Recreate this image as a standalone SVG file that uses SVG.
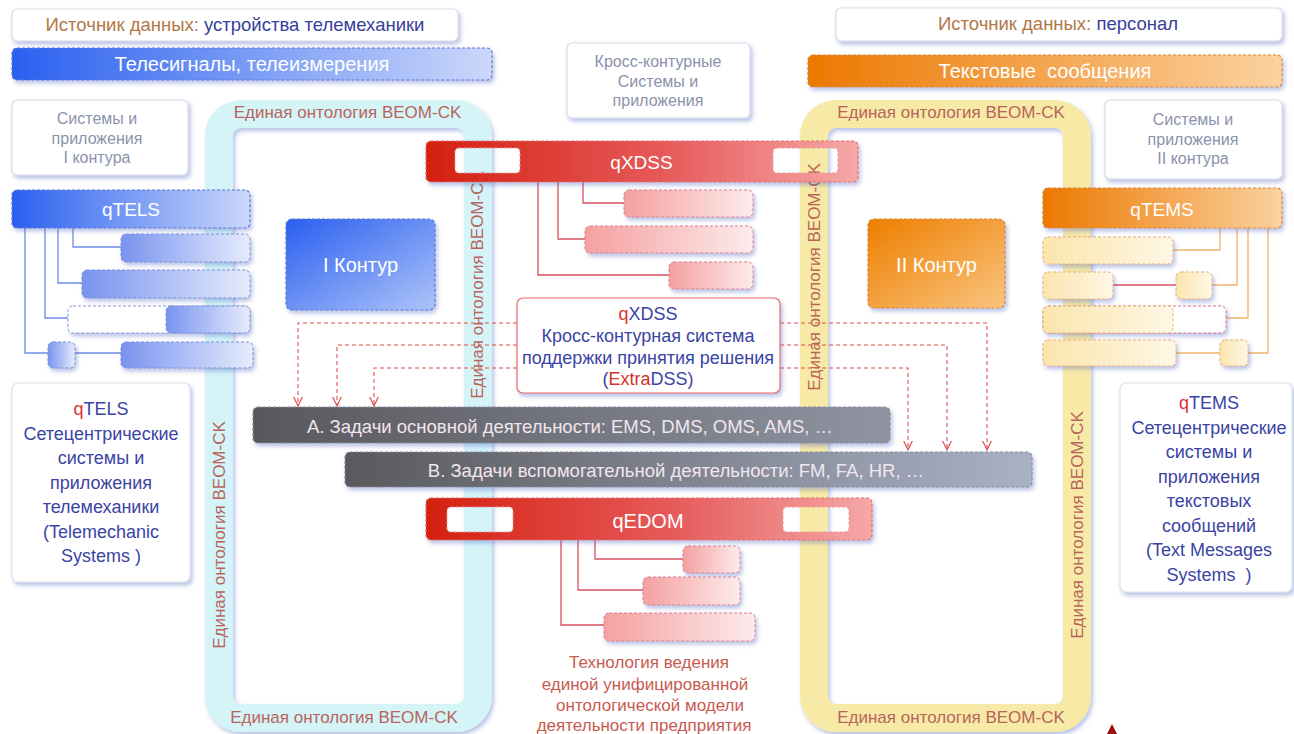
<svg xmlns="http://www.w3.org/2000/svg" width="1294" height="734" viewBox="0 0 1294 734">
<defs>
<style>
text{font-family:"Liberation Sans",Arial,Helvetica,sans-serif;}
.src{fill:#fff;stroke:#d8dcea;stroke-width:1.2}
.gray{fill:#8a92ac;font-size:16px;text-anchor:middle}
.wt{fill:#fff;text-anchor:middle}
.rl{fill:#b8645c;font-size:17px;text-anchor:middle}
.desc{fill:#3a44a4;font-size:18px;text-anchor:middle}
.q{fill:#d83030}
.tb{fill:none;stroke:#6f8ae6;stroke-width:1.3}
.tr{fill:none;stroke:#d8505e;stroke-width:1.3}
.to{fill:none;stroke:#f0b468;stroke-width:1.3}
.arr{fill:none;stroke:#e0504f;stroke-width:1.1;stroke-dasharray:4 3;marker-end:url(#ah)}
.hole{fill:none;stroke:#e89a9a;stroke-width:1;stroke-dasharray:3 2}
.sbB{fill:url(#gLB);stroke:#7a90dc;stroke-width:1;stroke-dasharray:3 2}
.sbP{fill:url(#gP);stroke:#d88090;stroke-width:1;stroke-dasharray:3 2}
.sbY{fill:url(#gY);stroke:#e8b070;stroke-width:1;stroke-dasharray:3 2}
.bdB{stroke:#5a78d8;stroke-width:1.2;stroke-dasharray:3 2}
.bdO{stroke:#d88a30;stroke-width:1.2;stroke-dasharray:3 2}
.bdR{stroke:#e07070;stroke-width:1.2;stroke-dasharray:3 2}
.bdG{stroke:#8a8fa0;stroke-width:1.2;stroke-dasharray:3 2}
.task{fill:#f2e6ee;font-size:18.5px;text-anchor:middle}
</style>
<filter id="sh" x="-10%" y="-20%" width="130%" height="160%">
<feDropShadow dx="2" dy="3" stdDeviation="2" flood-color="#5068c0" flood-opacity="0.4"/>
</filter>
<linearGradient id="gB" x1="0" y1="0" x2="1" y2="0"><stop offset="0" stop-color="#2a60f0"/><stop offset="1" stop-color="#cbd8fa"/></linearGradient>
<linearGradient id="gBd" x1="0" y1="0" x2="1" y2="1"><stop offset="0" stop-color="#2a5ff0"/><stop offset="1" stop-color="#adc3f9"/></linearGradient>
<linearGradient id="gO" x1="0" y1="0" x2="1" y2="0"><stop offset="0" stop-color="#ec7800"/><stop offset="1" stop-color="#fbd2a0"/></linearGradient>
<linearGradient id="gOd" x1="0" y1="0" x2="1" y2="1"><stop offset="0" stop-color="#ee7e00"/><stop offset="1" stop-color="#f9c47e"/></linearGradient>
<linearGradient id="gR" x1="0" y1="0" x2="1" y2="0"><stop offset="0" stop-color="#d4200f"/><stop offset="0.55" stop-color="#e65a5a"/><stop offset="1" stop-color="#f6a8a8"/></linearGradient>
<linearGradient id="gA" x1="0" y1="0" x2="1" y2="0"><stop offset="0" stop-color="#58585c"/><stop offset="1" stop-color="#8f94a2"/></linearGradient>
<linearGradient id="gBb" x1="0" y1="0" x2="1" y2="0"><stop offset="0" stop-color="#59595d"/><stop offset="1" stop-color="#a9b1c5"/></linearGradient>
<linearGradient id="gP" x1="0" y1="0" x2="1" y2="0"><stop offset="0" stop-color="#f5a0a0"/><stop offset="1" stop-color="#fdebeb"/></linearGradient>
<linearGradient id="gLB" x1="0" y1="0" x2="1" y2="0"><stop offset="0" stop-color="#7893ef"/><stop offset="1" stop-color="#e6ecfc"/></linearGradient>
<linearGradient id="gY" x1="0" y1="0" x2="1" y2="0"><stop offset="0" stop-color="#fbe5ae"/><stop offset="1" stop-color="#fff7e6"/></linearGradient>
<marker id="ah" viewBox="0 0 10 10" refX="9.5" refY="5" markerWidth="10" markerHeight="10" markerUnits="userSpaceOnUse" orient="auto"><path d="M0,0.5 L9.5,5 L0,9.5" fill="none" stroke="#e0504f" stroke-width="1.2"/></marker>
<mask id="mX" maskUnits="userSpaceOnUse" x="0" y="0" width="1294" height="734"><rect x="0" y="0" width="1294" height="734" fill="#fff"/><rect x="455" y="148" width="65" height="25" rx="4" fill="#000"/><rect x="773" y="148" width="65" height="25" rx="4" fill="#000"/></mask>
<mask id="mE" maskUnits="userSpaceOnUse" x="0" y="0" width="1294" height="734"><rect x="0" y="0" width="1294" height="734" fill="#fff"/><rect x="447" y="507" width="66" height="25" rx="4" fill="#000"/><rect x="783" y="507" width="66" height="25" rx="4" fill="#000"/></mask>
</defs>
<rect x="0" y="0" width="1294" height="734" fill="#fff"/>

<g id="src-telemech">
<rect class="src" x="12" y="9" width="446" height="32" rx="5" filter="url(#sh)"/>
<text x="235" y="31" font-size="18.5" text-anchor="middle"><tspan fill="#b07848">Источник данных:</tspan><tspan fill="#38409a"> устройства телемеханики</tspan></text>
</g>
<g id="bar-telesignals">
<rect x="12" y="48" width="480" height="32" rx="5" fill="url(#gB)" class="bdB" filter="url(#sh)"/>
<text class="wt" x="252" y="71" font-size="20">Телесигналы, телеизмерения</text>
</g>
<g id="sys-i">
<rect class="src" x="12" y="100" width="176" height="75" rx="5" filter="url(#sh)"/>
<text class="gray" x="97" y="124">Системы и</text>
<text class="gray" x="97" y="143.5">приложения</text>
<text class="gray" x="97" y="163">I контура</text>
</g>
<g id="cross-systems">
<rect class="src" x="567" y="43" width="183" height="75" rx="5" filter="url(#sh)"/>
<text class="gray" x="658" y="67">Кросс-контурные</text>
<text class="gray" x="658" y="86.5">Системы и</text>
<text class="gray" x="658" y="106">приложения</text>
</g>
<g id="src-personal">
<rect class="src" x="836" y="8" width="446" height="33" rx="5" filter="url(#sh)"/>
<text x="1058" y="30" font-size="18.5" text-anchor="middle"><tspan fill="#b07848">Источник данных:</tspan><tspan fill="#38409a"> персонал</tspan></text>
</g>
<g id="bar-text-messages">
<rect x="808" y="55" width="474" height="32" rx="5" fill="url(#gO)" class="bdO" filter="url(#sh)"/>
<text class="wt" x="1045" y="78" font-size="20" style="white-space:pre">Текстовые  сообщения</text>
</g>
<g id="sys-ii">
<rect class="src" x="1105" y="100" width="177" height="79" rx="5" filter="url(#sh)"/>
<text class="gray" x="1193" y="125">Системы и</text>
<text class="gray" x="1193" y="144.5">приложения</text>
<text class="gray" x="1193" y="164">II контура</text>
</g>

<g id="ring-blue">
<rect x="219" y="114" width="259" height="604" rx="22" fill="none" stroke="#d4f4f8" stroke-width="28" filter="url(#sh)"/>
<text class="rl" x="347.5" y="118">Единая онтология BEOM-CK</text>
<text class="rl" x="344" y="723">Единая онтология BEOM-CK</text>
<text class="rl" transform="translate(225,535) rotate(-90)">Единая онтология BEOM-CK</text>
<text class="rl" transform="translate(483,285) rotate(-90)">Единая онтология BEOM-CK</text>
</g>
<g id="ring-yellow">
<rect x="814" y="114" width="263" height="604" rx="22" fill="none" stroke="#f7eaa6" stroke-width="28" filter="url(#sh)"/>
<text class="rl" x="951" y="118">Единая онтология BEOM-CK</text>
<text class="rl" x="951" y="723">Единая онтология BEOM-CK</text>
<text class="rl" transform="translate(820,277) rotate(-90)">Единая онтология BEOM-CK</text>
<text class="rl" transform="translate(1083,525) rotate(-90)">Единая онтология BEOM-CK</text>
</g>

<g id="connectors">
<path class="tb" d="M73,228 V247 H121"/>
<path class="tb" d="M58,228 V283 H82"/>
<path class="tb" d="M45,228 V318 H68"/>
<path class="tb" d="M25,228 V353 H48"/>
<path class="tb" d="M75,353 H121"/>
<path class="tr" d="M583,182 V203 H624"/>
<path class="tr" d="M558,182 V239 H585"/>
<path class="tr" d="M538,182 V275 H669"/>
<path class="tr" d="M595,540 V559 H683"/>
<path class="tr" d="M578,540 V590 H643"/>
<path class="tr" d="M561,540 V625 H604"/>
<path class="to" d="M1220,228 V250 H1173"/>
<path class="to" d="M1237,228 V285 H1212"/>
<path class="to" d="M1248,228 V318 H1226"/>
<path class="to" d="M1268,228 V353 H1248"/>
<path class="to" d="M1176,353 H1220"/>
<path class="tr" d="M1113,285 H1176"/>
<path class="arr" d="M517,323 H298 V406"/>
<path class="arr" d="M517,345 H337 V406"/>
<path class="arr" d="M517,368 H374 V406"/>
<path class="arr" d="M780,323 H987 V450"/>
<path class="arr" d="M780,345 H947 V450"/>
<path class="arr" d="M780,368 H908 V450"/>
</g>

<g id="qtels">
<rect x="12" y="190" width="238" height="38" rx="5" fill="url(#gB)" class="bdB" filter="url(#sh)"/>
<text class="wt" x="131" y="216" font-size="19">qTELS</text>
<rect class="sbB" x="121" y="234" width="129" height="28" rx="5" filter="url(#sh)"/>
<rect class="sbB" x="82" y="270" width="168" height="28" rx="5" filter="url(#sh)"/>
<rect x="68" y="306" width="182" height="27" rx="5" fill="#fff" stroke="#8898d8" stroke-width="1" stroke-dasharray="3 2" filter="url(#sh)"/>
<rect class="sbB" x="166" y="306" width="84" height="27" rx="5"/>
<rect class="sbB" x="48" y="342" width="27" height="26" rx="5" filter="url(#sh)"/>
<rect class="sbB" x="121" y="342" width="132" height="26" rx="5" filter="url(#sh)"/>
</g>

<g id="qtems">
<rect x="1043" y="188" width="239" height="40" rx="5" fill="url(#gO)" class="bdO" filter="url(#sh)"/>
<text class="wt" x="1162" y="216" font-size="19">qTEMS</text>
<rect class="sbY" x="1043" y="237" width="130" height="27" rx="5" filter="url(#sh)"/>
<rect class="sbY" x="1043" y="272" width="70" height="27" rx="5" filter="url(#sh)"/>
<rect class="sbY" x="1176" y="272" width="36" height="27" rx="5" filter="url(#sh)"/>
<rect x="1043" y="306" width="183" height="27" rx="5" fill="#fff" stroke="#e07080" stroke-width="1" stroke-dasharray="3 2" filter="url(#sh)"/>
<rect class="sbY" x="1043" y="306" width="130" height="27" rx="5"/>
<rect class="sbY" x="1043" y="340" width="133" height="26" rx="5" filter="url(#sh)"/>
<rect class="sbY" x="1220" y="340" width="28" height="26" rx="5" filter="url(#sh)"/>
</g>

<g id="kontur-i">
<rect x="286" y="219" width="149" height="91" rx="6" fill="url(#gBd)" class="bdB" filter="url(#sh)"/>
<text class="wt" x="360.5" y="272" font-size="20">I Контур</text>
</g>
<g id="kontur-ii">
<rect x="868" y="219" width="137" height="89" rx="6" fill="url(#gOd)" class="bdO" filter="url(#sh)"/>
<text class="wt" x="936.5" y="272" font-size="20">II Контур</text>
</g>

<g id="qxdss">
<g mask="url(#mX)"><rect x="426" y="141" width="432" height="41" rx="5" fill="url(#gR)" class="bdR" filter="url(#sh)"/></g>
<rect class="hole" x="455" y="148" width="65" height="25" rx="4"/>
<rect class="hole" x="773" y="148" width="65" height="25" rx="4"/>
<text class="wt" x="641.5" y="169" font-size="19">qXDSS</text>
<rect class="sbP" x="624" y="190" width="129" height="27" rx="5" filter="url(#sh)"/>
<rect class="sbP" x="585" y="226" width="168" height="27" rx="5" filter="url(#sh)"/>
<rect class="sbP" x="669" y="262" width="84" height="27" rx="5" filter="url(#sh)"/>
</g>

<g id="qxdss-desc">
<rect x="517" y="298" width="263" height="95" rx="6" fill="#fff" stroke="#e86a6a" stroke-width="1.2" filter="url(#sh)"/>
<text class="desc" x="648" y="320" font-size="17"><tspan class="q">q</tspan>XDSS</text>
<text class="desc" x="648" y="342" font-size="17">Кросс-контурная система</text>
<text class="desc" x="648" y="363.5" font-size="17">поддержки принятия решения</text>
<text class="desc" x="648" y="385" font-size="17">(<tspan class="q">Extra</tspan>DSS)</text>
</g>

<g id="task-a">
<rect x="253" y="407" width="637" height="36" rx="5" fill="url(#gA)" class="bdG" filter="url(#sh)"/>
<text class="task" x="570" y="433">А. Задачи основной деятельности: EMS, DMS, OMS, AMS, …</text>
</g>
<g id="task-b">
<rect x="345" y="452" width="687" height="35" rx="5" fill="url(#gBb)" class="bdG" filter="url(#sh)"/>
<text class="task" x="676" y="477">В. Задачи вспомогательной деятельности: FM, FA, HR, …</text>
</g>

<g id="qedom">
<g mask="url(#mE)"><rect x="426" y="498" width="446" height="42" rx="5" fill="url(#gR)" class="bdR" filter="url(#sh)"/></g>
<rect class="hole" x="447" y="507" width="66" height="25" rx="4"/>
<rect class="hole" x="783" y="507" width="66" height="25" rx="4"/>
<text class="wt" x="648" y="528" font-size="20">qEDOM</text>
<rect class="sbP" x="683" y="546" width="57" height="27" rx="5" filter="url(#sh)"/>
<rect class="sbP" x="643" y="577" width="97" height="28" rx="5" filter="url(#sh)"/>
<rect class="sbP" x="604" y="613" width="151" height="28" rx="5" filter="url(#sh)"/>
</g>

<g id="qedom-desc" font-size="17" fill="#c85a50" text-anchor="middle">
<text x="649" y="668">Технология ведения</text>
<text x="645" y="689.5">единой унифицированной</text>
<text x="650" y="710.5">онтологической модели</text>
<text x="644" y="731">деятельности предприятия</text>
</g>

<g id="qtels-desc">
<rect x="12" y="383" width="178" height="199" rx="6" fill="#fff" stroke="#dde1ee" stroke-width="1.2" filter="url(#sh)"/>
<text class="desc" x="101" y="415"><tspan class="q">q</tspan>TELS</text>
<text class="desc" x="101" y="439.5">Сетецентрические</text>
<text class="desc" x="101" y="464">системы и</text>
<text class="desc" x="101" y="488.5">приложения</text>
<text class="desc" x="101" y="513">телемеханики</text>
<text class="desc" x="101" y="537.5">(Telemechanic</text>
<text class="desc" x="101" y="562">Systems )</text>
</g>

<g id="qtems-desc">
<rect x="1120" y="383" width="172" height="209" rx="6" fill="#fff" stroke="#dde1ee" stroke-width="1.2" filter="url(#sh)"/>
<text class="desc" x="1209" y="409"><tspan class="q">q</tspan>TEMS</text>
<text class="desc" x="1209" y="433.5">Сетецентрические</text>
<text class="desc" x="1209" y="458">системы и</text>
<text class="desc" x="1209" y="482.5">приложения</text>
<text class="desc" x="1209" y="507">текстовых</text>
<text class="desc" x="1209" y="531.5">сообщений</text>
<text class="desc" x="1209" y="556">(Text Messages</text>
<text class="desc" x="1209" y="580.5" style="white-space:pre">Systems  )</text>
</g>

<g id="corner-mark">
<polygon points="1112,724 1107,734 1117,734" fill="#9a1010"/>
</g>
</svg>
